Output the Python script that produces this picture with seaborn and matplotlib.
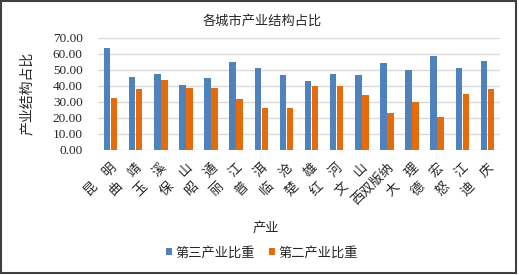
import pandas as pd
import matplotlib as mpl
import matplotlib.pyplot as plt
import seaborn as sns
from matplotlib.patches import Rectangle

cities = ["昆明", "曲靖", "玉溪", "保山", "昭通", "丽江", "普洱", "临沧",
          "楚雄", "红河", "文山", "西双版纳", "大理", "德宏", "怒江", "迪庆"]
tertiary = [63.5, 45.3, 47.0, 40.5, 45.0, 54.7, 51.0, 46.7,
            43.0, 47.5, 46.5, 54.4, 50.0, 58.5, 50.9, 55.6]
secondary = [32.0, 38.0, 43.7, 38.3, 38.5, 31.7, 26.3, 25.8,
             39.5, 39.7, 34.2, 23.1, 29.6, 20.6, 34.9, 37.8]
series_names = ["第三产业比重", "第二产业比重"]
yticks = [0, 10, 20, 30, 40, 50, 60, 70]

sns.set_style("white")
cjk = ['Noto Sans CJK SC', 'DejaVu Sans']
serif = 'Liberation Serif'
mpl.rcParams['font.family'] = cjk
mpl.rcParams['axes.unicode_minus'] = False

df = pd.DataFrame({
    "city": cities * 2,
    "value": tertiary + secondary,
    "series": [series_names[0]] * len(cities) + [series_names[1]] * len(cities),
})

fig = plt.figure(figsize=(5.19, 2.75), dpi=100)
ax = fig.add_axes([98 / 519, 1 - 149.7 / 275, 402 / 519, 112 / 275])

sns.barplot(data=df, x="city", y="value", hue="series", ax=ax,
            palette=["#4F81BD", "#E46C0A"], width=0.56, gap=0.08,
            saturation=1, edgecolor="none")

ax.set_ylim(0, 70)
ax.set_xlim(-0.5, len(cities) - 0.5)
ax.set_yticks(yticks)
ax.set_yticklabels([f"{v:.2f}" for v in yticks], fontfamily=serif, fontsize=9.5)
ax.yaxis.grid(True, color="#D9D9D9", linewidth=1)
ax.set_axisbelow(True)
for s in ax.spines.values():
    s.set_visible(False)
ax.tick_params(axis="y", length=0, pad=11)
ax.tick_params(axis="x", length=0, pad=8)

ax.set_xticks(range(len(cities)))
ax.set_xticklabels([c if len(c) > 2 else c[0] + "\u3000" + c[1] for c in cities],
                   rotation=45, ha="right", va="top", rotation_mode="anchor",
                   fontsize=9.5)
ax.set_xlabel("")
ax.set_ylabel("产业结构占比", fontsize=10)
ax.yaxis.set_label_coords(-64 / 402, 0.5)

fig.text(262 / 519, 1 - 21 / 275, "各城市产业结构占比", ha="center", va="center", fontsize=9.5)
fig.text(266 / 519, 1 - 228 / 275, "产业", ha="center", va="center", fontsize=9.5)

handles, labels = ax.get_legend_handles_labels()
ax.get_legend().remove()
fig.legend(handles, labels, loc="center", bbox_to_anchor=(262 / 519, 1 - 253 / 275),
           ncol=2, frameon=False, fontsize=9.5, handlelength=0.45, handleheight=0.45,
           handletextpad=0.25, columnspacing=1.1)

fig.patches.append(Rectangle((0.002, 0.006), 0.993, 0.99, transform=fig.transFigure,
                             fill=False, edgecolor="#404040", linewidth=1.5))

plt.savefig("out.png", dpi=100)
